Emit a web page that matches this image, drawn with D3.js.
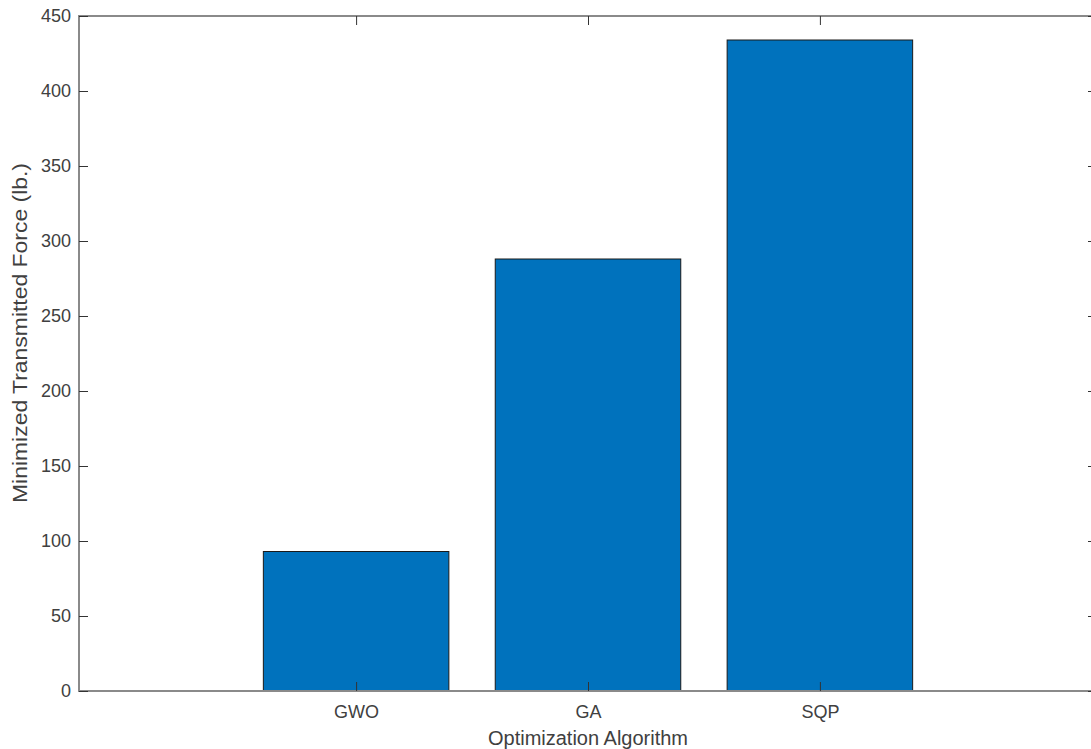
<!DOCTYPE html>
<html>
<head>
<meta charset="utf-8">
<script src="https://cdn.jsdelivr.net/npm/d3@7"></script>
<style>
  html, body { margin: 0; padding: 0; background: #fff; }
  svg { display: block; }
  text { font-family: "Liberation Sans", Arial, sans-serif; fill: #404040; }
</style>
</head>
<body>
<svg id="chart" width="1091" height="749"></svg>
<script>
// Algorithms compared and the minimized transmitted force each one reached
const algorithms = ["GWO", "GA", "SQP"];
const forces = [93, 288, 434];
const yTicks = [0, 50, 100, 150, 200, 250, 300, 350, 400, 450];

const W = 1091, H = 749;
const margin = { left: 79, top: 16, right: -6, bottom: 58 };
const plotW = W - margin.left - margin.right;
const plotH = H - margin.top - margin.bottom;

const svg = d3.select("#chart");
const g = svg.append("g").attr("transform", `translate(${margin.left},${margin.top})`);

// Numeric category positions 1..n with padding so the bars sit centred
const x = d3.scaleLinear().domain([-0.195, 4.195]).range([0, plotW]);
const y = d3.scaleLinear().domain([0, 450]).range([plotH, 0]);
const barWidth = (x(1) - x(0)) * 0.8;

const axisColor = "#8a8a8a";
const tickFont = "18px";

// Bars
g.selectAll("rect.bar")
  .data(forces)
  .enter().append("rect")
  .attr("class", "bar")
  .attr("x", (d, i) => x(i + 1) - barWidth / 2)
  .attr("y", d => y(d))
  .attr("width", barWidth)
  .attr("height", d => y(0) - y(d))
  .attr("fill", "#0072BD")
  .attr("stroke", "#1a1a1a")
  .attr("stroke-width", 1);

// Box around the axes
g.append("rect")
  .attr("x", 0).attr("y", 0)
  .attr("width", plotW).attr("height", plotH)
  .attr("fill", "none")
  .attr("stroke", axisColor)
  .attr("stroke-width", 2);

// Left y axis, ticks pointing inward
const yAxis = d3.axisLeft(y).tickValues(yTicks).tickSizeInner(-9).tickSizeOuter(0).tickPadding(8);
const ya = g.append("g").call(yAxis);
ya.select(".domain").remove();
ya.selectAll(".tick line").attr("stroke", "#333").attr("stroke-width", 1);
ya.selectAll(".tick text").style("font-size", tickFont).attr("fill", "#404040")
  .style("font-family", "'Liberation Sans', Arial, sans-serif");

// Right y axis ticks (inward)
const yr = g.append("g").attr("transform", `translate(${plotW},0)`)
  .call(d3.axisRight(y).tickValues(yTicks).tickSizeInner(-9).tickSizeOuter(0).tickFormat(""));
yr.select(".domain").remove();
yr.selectAll(".tick line").attr("stroke", "#333").attr("stroke-width", 1);

// Bottom x axis with category labels
const xa = g.append("g").attr("transform", `translate(0,${plotH})`)
  .call(d3.axisBottom(x).tickValues([1, 2, 3]).tickSizeInner(-9).tickSizeOuter(0).tickPadding(14)
    .tickFormat((d, i) => algorithms[i]));
xa.select(".domain").remove();
xa.selectAll(".tick line").attr("stroke", "#333").attr("stroke-width", 1);
xa.selectAll(".tick text").style("font-size", tickFont).attr("fill", "#404040")
  .style("font-family", "'Liberation Sans', Arial, sans-serif");

// Top x axis ticks (inward)
const xt = g.append("g")
  .call(d3.axisTop(x).tickValues([1, 2, 3]).tickSizeInner(-9).tickSizeOuter(0).tickFormat(""));
xt.select(".domain").remove();
xt.selectAll(".tick line").attr("stroke", "#333").attr("stroke-width", 1);

// Axis titles
svg.append("text")
  .attr("x", margin.left + x(2))
  .attr("y", 745)
  .attr("text-anchor", "middle")
  .style("font-size", "20px")
  .text("Optimization Algorithm");

svg.append("text")
  .attr("transform", "translate(27,333) rotate(-90)")
  .attr("text-anchor", "middle")
  .attr("textLength", 340)
  .attr("lengthAdjust", "spacingAndGlyphs")
  .style("font-size", "20px")
  .text("Minimized Transmitted Force (lb.)");
</script>
</body>
</html>
